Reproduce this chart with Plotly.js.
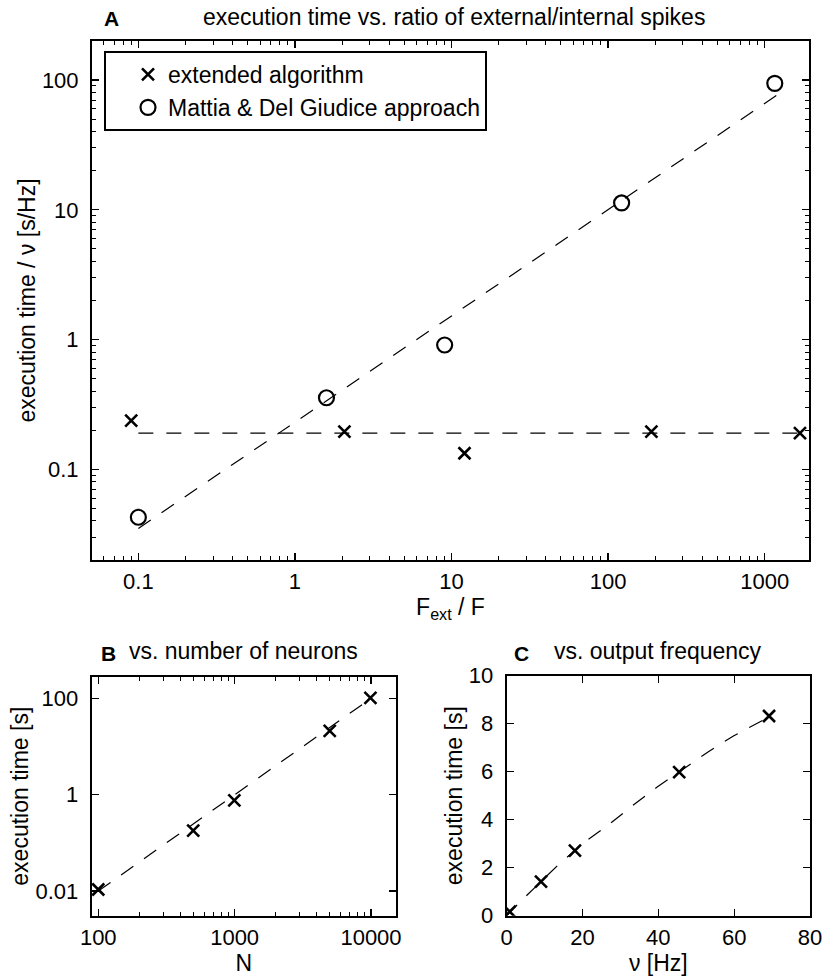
<!DOCTYPE html>
<html>
<head>
<meta charset="utf-8">
<script src="https://cdn.plot.ly/plotly-3.0.1.min.js"></script>
<style>html,body{margin:0;padding:0;background:#fff;}#chart{width:824px;height:980px;}</style>
</head>
<body>
<div id="chart"></div>
<script>
// ---------- Panel A data ----------
const aExtRatio = [0.09, 2.07, 12.1, 189, 1680];
const aExtTime  = [0.237, 0.195, 0.133, 0.195, 0.19];
const aMdgRatio = [0.1, 1.59, 9.04, 122, 1160];
const aMdgTime  = [0.0427, 0.356, 0.908, 11.3, 94.3];
const aExtFitRatio = [0.1, 1900];
const aExtFitTime  = [0.19, 0.19];
const aMdgFitRatio = [0.1, 1380];
const aMdgFitTime  = [0.035, 86];
const aXTicks = [0.1, 1, 10, 100, 1000];
const aXTickText = ["0.1", "1", "10", "100", "1000"];
const aYTicks = [0.1, 1, 10, 100];
const aYTickText = ["0.1", "1", "10", "100"];

// ---------- Panel B data ----------
const bNeurons = [100, 497, 995, 4980, 9900];
const bTime    = [0.0108, 0.18, 0.76, 21.1, 102];
const bFitNeurons = [100, 9300];
const bFitTime    = [0.01, 86];
const bXTicks = [100, 1000, 10000];
const bXTickText = ["100", "1000", "10000"];
const bYTicks = [0.01, 1, 100];
const bYTickText = ["0.01", "1", "100"];

// ---------- Panel C data ----------
const cFreq = [0.8, 9.05, 18.0, 45.5, 69.2];
const cTime = [0.17, 1.42, 2.71, 5.98, 8.32];
const cFitFreq = [0, 4.0, 13.8, 21.3, 26.9, 33.4, 39.6, 46.2, 53.2, 59.8, 66.8, 69.0];
const cFitTime = [0, 0.65, 2.15, 3.15, 3.79, 4.61, 5.35, 6.07, 6.83, 7.49, 8.08, 8.26];
const cXTicks = [0, 20, 40, 60, 80];
const cYTicks = [0, 2, 4, 6, 8, 10];

// ---------- styling ----------
const FONT = "Liberation Sans, Arial, Helvetica, sans-serif";
const TICKFONT = {family: FONT, size: 22, color: "#000"};
const TITLEFONT = {family: FONT, size: 23, color: "#000"};
const W = 824, H = 980;
const px = v => v / W;
const py = v => 1 - v / H;

// minor tick positions for log axes (2..9 in each decade)
function logMinor(lo, hi) {
  const out = [];
  for (let e = lo; e <= hi; e++) for (let m = 2; m <= 9; m++) out.push(m * Math.pow(10, e));
  return out;
}

const dashLine = {color: "#000", width: 1.2, dash: "15px,13px"};
const xMarker = {symbol: "x-thin", size: 12, color: "#000", line: {color: "#000", width: 2.6}};
const oMarker = {symbol: "circle-open", size: 15, color: "#000", line: {color: "#000", width: 2.2}};

const traces = [
  {x: aExtFitRatio, y: aExtFitTime, mode: "lines", line: dashLine, showlegend: false, xaxis: "x", yaxis: "y", hoverinfo: "skip"},
  {x: aMdgFitRatio, y: aMdgFitTime, mode: "lines", line: dashLine, showlegend: false, xaxis: "x", yaxis: "y", hoverinfo: "skip"},
  {x: aExtRatio, y: aExtTime, mode: "markers", name: "extended algorithm", marker: xMarker, xaxis: "x", yaxis: "y"},
  {x: aMdgRatio, y: aMdgTime, mode: "markers", name: "Mattia & Del Giudice approach", marker: oMarker, xaxis: "x", yaxis: "y"},
  {x: bFitNeurons, y: bFitTime, mode: "lines", line: dashLine, showlegend: false, xaxis: "x2", yaxis: "y2", hoverinfo: "skip"},
  {x: bNeurons, y: bTime, mode: "markers", marker: xMarker, showlegend: false, xaxis: "x2", yaxis: "y2"},
  {x: cFitFreq, y: cFitTime, mode: "lines", line: dashLine, showlegend: false, xaxis: "x3", yaxis: "y3", hoverinfo: "skip"},
  {x: cFreq, y: cTime, mode: "markers", marker: xMarker, showlegend: false, xaxis: "x3", yaxis: "y3"}
];

function axisBase(extra) {
  return Object.assign({
    showline: true, linecolor: "#000", linewidth: 2, mirror: "allticks",
    ticks: "inside", ticklen: 7, tickwidth: 1.3, tickcolor: "#000",
    showgrid: false, zeroline: false, tickfont: TICKFONT,
    tickmode: "array", ticklabelstandoff: 1, fixedrange: true
  }, extra);
}
function minorLog(vals) {
  return {tickmode: "array", tickvals: vals, ticks: "inside", ticklen: 4, tickwidth: 1, tickcolor: "#000", showgrid: false};
}

const layout = {
  width: W, height: H,
  margin: {l: 0, r: 0, t: 0, b: 0},
  paper_bgcolor: "#fff", plot_bgcolor: "#fff",
  font: {family: FONT, size: 22, color: "#000"},
  showlegend: true,
  legend: {
    x: px(104), y: py(51), xanchor: "left", yanchor: "top",
    bordercolor: "#000", borderwidth: 2, bgcolor: "#fff",
    font: {family: FONT, size: 23, color: "#000"},
    indentation: 22, tracegroupgap: 0
  },
  xaxis: axisBase({
    type: "log", domain: [px(92), px(809)], range: [-1.296, 3.283], anchor: "y",
    tickvals: aXTicks, ticktext: aXTickText, minor: minorLog(logMinor(-2, 3)),
    title: {text: "F<sub>ext</sub> / F", font: TITLEFONT, standoff: 0}
  }),
  yaxis: axisBase({
    type: "log", domain: [py(560), py(41)], range: [-1.699, 2.301], anchor: "x",
    tickvals: aYTicks, ticktext: aYTickText, minor: minorLog(logMinor(-2, 2)),
    ticklabelstandoff: 7,
    title: {text: "execution time / ν [s/Hz]", font: TITLEFONT, standoff: 0}
  }),
  xaxis2: axisBase({
    type: "log", domain: [px(91.7), px(395.7)], range: [1.952, 4.181], anchor: "y2",
    tickvals: bXTicks, ticktext: bXTickText, minor: minorLog(logMinor(1, 4)),
    title: {text: "N", font: TITLEFONT, standoff: 0}
  }),
  yaxis2: axisBase({
    type: "log", domain: [py(915.7), py(676.7)], range: [-2.511, 2.447], anchor: "x2",
    tickvals: bYTicks, ticktext: bYTickText, ticklabelstandoff: 7,
    title: {text: "execution time [s]", font: TITLEFONT, standoff: 0}
  }),
  xaxis3: axisBase({
    domain: [px(506.7), px(810)], range: [0, 80], anchor: "y3",
    tickvals: cXTicks,
    title: {text: "ν [Hz]", font: TITLEFONT, standoff: 2}
  }),
  yaxis3: axisBase({
    domain: [py(915.7), py(675.7)], range: [0, 10], anchor: "x3",
    tickvals: cYTicks, ticklabelstandoff: 7,
    title: {text: "execution time [s]", font: TITLEFONT, standoff: 0}
  }),
  annotations: [
    {text: "<b>A</b>", xref: "paper", yref: "paper", x: px(111), y: py(18), showarrow: false, font: {family: FONT, size: 21}, xanchor: "center", yanchor: "middle"},
    {text: "execution time vs. ratio of external/internal spikes", xref: "paper", yref: "paper", x: px(454), y: py(17), showarrow: false, font: TITLEFONT, xanchor: "center", yanchor: "middle"},
    {text: "<b>B</b>", xref: "paper", yref: "paper", x: px(108), y: py(653), showarrow: false, font: {family: FONT, size: 21}, xanchor: "center", yanchor: "middle"},
    {text: "vs. number of neurons", xref: "paper", yref: "paper", x: px(244), y: py(651), showarrow: false, font: TITLEFONT, xanchor: "center", yanchor: "middle"},
    {text: "<b>C</b>", xref: "paper", yref: "paper", x: px(521), y: py(653), showarrow: false, font: {family: FONT, size: 21}, xanchor: "center", yanchor: "middle"},
    {text: "vs. output frequency", xref: "paper", yref: "paper", x: px(658), y: py(651), showarrow: false, font: TITLEFONT, xanchor: "center", yanchor: "middle"}
  ]
};

Plotly.newPlot("chart", traces, layout, {staticPlot: true, displayModeBar: false});
</script>
</body>
</html>
